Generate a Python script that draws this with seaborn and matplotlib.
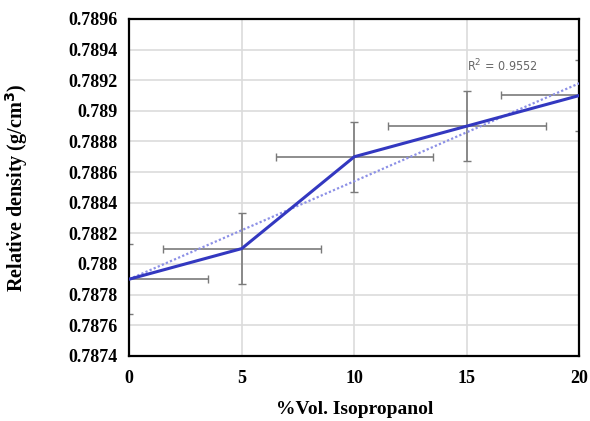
import numpy as np
import pandas as pd
import matplotlib
matplotlib.use("Agg")
import matplotlib.pyplot as plt
import seaborn as sns

# Data
vol_pct = [0, 5, 10, 15, 20]
density = [0.7879, 0.7881, 0.7887, 0.7889, 0.7891]
x_err = [3.5, 3.5, 3.5, 3.5, 3.5]
y_err = [0.00023, 0.00023, 0.00023, 0.00023, 0.00023]
y_ticks = [0.7874, 0.7876, 0.7878, 0.788, 0.7882, 0.7884, 0.7886,
           0.7888, 0.789, 0.7892, 0.7894, 0.7896]
y_tick_labels = ["0.7874", "0.7876", "0.7878", "0.788", "0.7882", "0.7884",
                 "0.7886", "0.7888", "0.789", "0.7892", "0.7894", "0.7896"]
x_ticks = [0, 5, 10, 15, 20]
r2_text = "R$^2$ = 0.9552"

sns.set_theme(style="whitegrid")
plt.rcParams['font.family'] = ['Liberation Serif', 'DejaVu Serif']

df = pd.DataFrame({"vol": vol_pct, "density": density})

fig = plt.figure(figsize=(5.9, 4.21), dpi=100)
ax = fig.add_axes([0.219, 0.155, 0.763, 0.80])

# error bars
ax.errorbar(vol_pct, density, xerr=x_err, yerr=y_err, fmt="none",
            ecolor="#7a7a7a", elinewidth=1.2, capsize=3, capthick=1.0, zorder=2)

# linear trendline
coef = np.polyfit(vol_pct, density, 1)
trend_x = np.array([vol_pct[0], vol_pct[-1]])
ax.plot(trend_x, np.polyval(coef, trend_x), linestyle=(0, (1, 1)),
        color="#8c90e6", linewidth=1.6, zorder=3)

sns.lineplot(data=df, x="vol", y="density", ax=ax, color="#3338c0",
             linewidth=2.2, zorder=4)

ax.text(15.0, 0.78929, r2_text, fontsize=9, color="#666666", va="center",
        family=['DejaVu Sans'], fontstretch='condensed')

ax.set_xlim(0, 20)
ax.set_ylim(0.7874, 0.7896)
ax.set_xticks(x_ticks)
ax.set_yticks(y_ticks)
ax.set_yticklabels(y_tick_labels)
for lab in ax.get_xticklabels() + ax.get_yticklabels():
    lab.set_fontweight("bold")
    lab.set_fontsize(13)
    lab.set_color("black")
ax.tick_params(axis="both", length=0, pad=8)
ax.tick_params(axis="x", pad=10)

ax.grid(True, color="#dcdcdc", linewidth=1.2)
for side in ["left", "bottom", "top", "right"]:
    ax.spines[side].set_visible(True)
    ax.spines[side].set_color("black")
    ax.spines[side].set_linewidth(1.6)

ax.set_xlabel("%Vol. Isopropanol", fontsize=14, fontweight="bold",
              color="black", labelpad=10)
ax.set_ylabel("Relative density (g/cm$^\\mathbf{3}$)", fontsize=14.5,
              fontweight="bold", color="black", labelpad=28)

fig.savefig("out.png", dpi=100)
